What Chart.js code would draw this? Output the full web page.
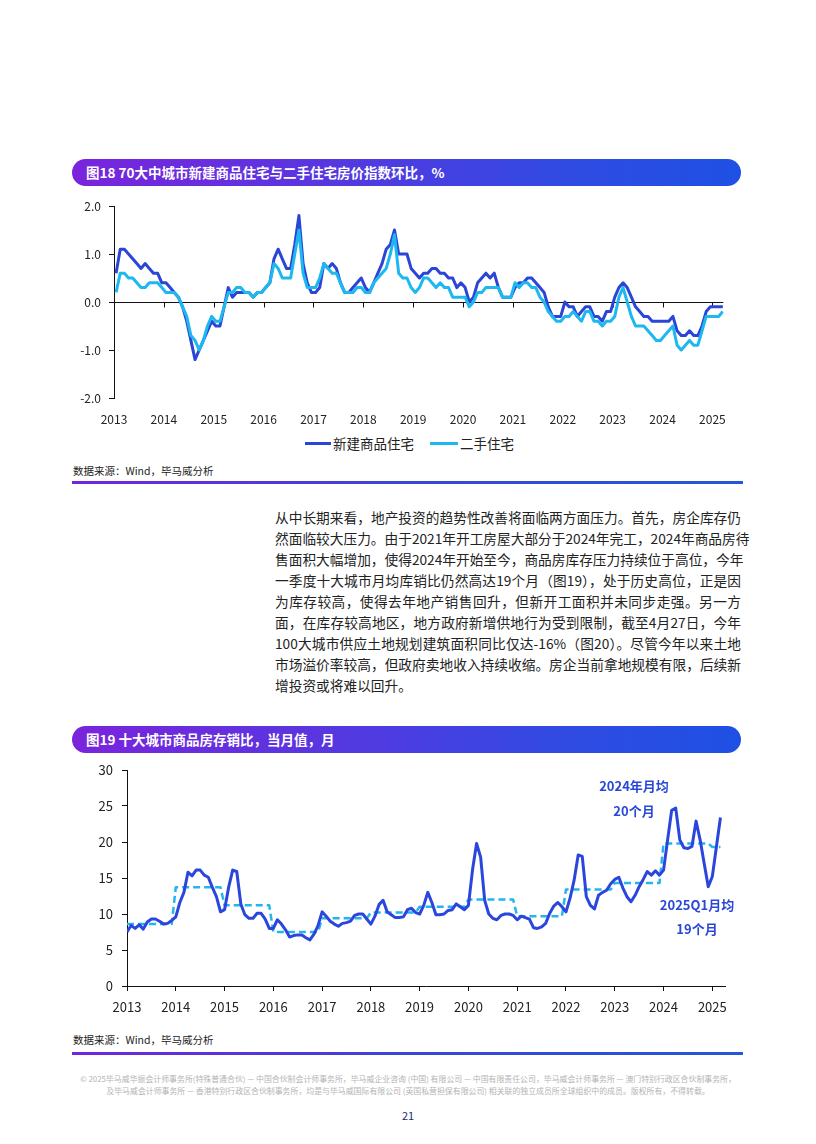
<!DOCTYPE html>
<html>
<head>
<meta charset="utf-8">
<script src="https://cdn.jsdelivr.net/npm/chart.js@4.4.0/dist/chart.umd.min.js"></script>
<style>
  body { margin: 0; width: 816px; height: 1144px; position: relative; background: #fff; overflow: hidden;
         font-family: 'Noto Sans CJK SC', 'Noto Sans', sans-serif; color: #222; }
  .bar { position: absolute; left: 72px; width: 669px; height: 27px; border-radius: 14px; box-sizing: border-box;
         background: linear-gradient(90deg, #7a24dc 0%, #5a35e0 35%, #2f4be2 75%, #1f50e4 100%);
         color: #fff; font-weight: bold; font-size: 13.5px; line-height: 27px; padding-left: 14px; }
  .src { position: absolute; left: 73px; font-size: 10.5px; color: #222; }
  .rule { position: absolute; left: 72px; width: 671px; height: 3px; background: linear-gradient(90deg, #7526d8, #3a45d6 50%, #2457d6); }
  .legend { position: absolute; top: 434px; height: 18px; font-size: 13.5px; line-height: 18px; }
  .legend span.sw { position: absolute; top: 8px; height: 3px; }
  .legend span.tx { position: absolute; top: 0; white-space: nowrap; }
  .para { position: absolute; left: 275px; width: 466px; font-size: 13.7px; color: #222; }
  .para div { height: 21px; line-height: 21px; text-align: justify; text-align-last: justify; white-space: nowrap; }
  .para div.last { text-align-last: left; }
  .note { position: absolute; color: #2a48d8; font-weight: bold; font-size: 13px; text-align: center; width: 100px; }
  .foot { position: absolute; left: 40px; width: 736px; text-align: center; font-size: 7.9px; color: #b4b4b4; line-height: 12px; white-space: nowrap; }
  .page { position: absolute; left: 0; width: 816px; top: 1107px; text-align: center; font-size: 11px; color: #1d2b78; }
  canvas { position: absolute; }
</style>
</head>
<body>

<div class="bar" style="top:159px;">图18 70大中城市新建商品住宅与二手住宅房价指数环比，%</div>
<canvas id="priceChart" width="710" height="236" style="left:30px;top:196px;"></canvas>
<div class="legend" style="left:0;width:816px;">
  <span class="sw" style="left:305px;width:26px;background:#2b45d6;"></span>
  <span class="tx" style="left:333px;">新建商品住宅</span>
  <span class="sw" style="left:430px;width:28px;background:#1cb8ef;"></span>
  <span class="tx" style="left:460px;">二手住宅</span>
</div>
<div class="src" style="top:463px;">数据来源：Wind，毕马威分析</div>
<div class="rule" style="top:481px;"></div>

<div class="para" style="top:507px;">
  <div>从中长期来看，地产投资的趋势性改善将面临两方面压力。首先，房企库存仍</div>
  <div>然面临较大压力。由于2021年开工房屋大部分于2024年完工，2024年商品房待</div>
  <div>售面积大幅增加，使得2024年开始至今，商品房库存压力持续位于高位，今年</div>
  <div>一季度十大城市月均库销比仍然高达19个月（图19），处于历史高位，正是因</div>
  <div>为库存较高，使得去年地产销售回升，但新开工面积并未同步走强。另一方</div>
  <div>面，在库存较高地区，地方政府新增供地行为受到限制，截至4月27日，今年</div>
  <div>100大城市供应土地规划建筑面积同比仅达-16%（图20）。尽管今年以来土地</div>
  <div>市场溢价率较高，但政府卖地收入持续收缩。房企当前拿地规模有限，后续新</div>
  <div class="last">增投资或将难以回升。</div>
</div>

<div class="bar" style="top:726px;">图19 十大城市商品房存销比，当月值，月</div>
<canvas id="ratioChart" width="710" height="256" style="left:30px;top:760px;"></canvas>
<div class="note" style="left:584px;top:776px;">2024年月均</div>
<div class="note" style="left:584px;top:801px;">20个月</div>
<div class="note" style="left:647px;top:895px;">2025Q1月均</div>
<div class="note" style="left:647px;top:919px;">19个月</div>
<div class="src" style="top:1032px;">数据来源：Wind，毕马威分析</div>
<div class="rule" style="top:1052px;"></div>

<div class="foot" style="top:1073px;">© 2025毕马威华振会计师事务所(特殊普通合伙) — 中国合伙制会计师事务所，毕马威企业咨询 (中国) 有限公司 — 中国有限责任公司，毕马威会计师事务所 — 澳门特别行政区合伙制事务所，<br>及毕马威会计师事务所 — 香港特别行政区合伙制事务所，均是与毕马威国际有限公司 (英国私营担保有限公司) 相关联的独立成员所全球组织中的成员。版权所有，不得转载。</div>
<div class="page">21</div>

<script>
// Year ticks shared by both charts
const years = [2013, 2014, 2015, 2016, 2017, 2018, 2019, 2020, 2021, 2022, 2023, 2024, 2025];

// Fig 18: 70-city price index, month on month %, Jan 2013 - Mar 2025
const newHome = [
  0.6, 1.1, 1.1, 1.0, 0.9, 0.8, 0.7, 0.8, 0.7, 0.6, 0.6, 0.4,
  0.4, 0.3, 0.2, 0.1, -0.1, -0.4, -0.8, -1.2, -1.0, -0.8, -0.6, -0.4,
  -0.5, -0.5, -0.1, 0.3, 0.1, 0.2, 0.2, 0.2, 0.2, 0.1, 0.2, 0.2,
  0.3, 0.4, 0.9, 1.1, 0.9, 0.7, 0.7, 1.2, 1.8, 0.8, 0.4, 0.2,
  0.2, 0.3, 0.8, 0.7, 0.8, 0.7, 0.4, 0.2, 0.2, 0.3, 0.4, 0.5,
  0.3, 0.2, 0.4, 0.6, 0.8, 1.1, 1.2, 1.5, 1.0, 1.0, 1.0, 0.7,
  0.6, 0.5, 0.6, 0.6, 0.7, 0.7, 0.6, 0.6, 0.5, 0.5, 0.3, 0.4,
  0.3, 0.0, 0.1, 0.4, 0.5, 0.6, 0.5, 0.6, 0.3, 0.1, 0.1, 0.1,
  0.3, 0.4, 0.4, 0.5, 0.5, 0.4, 0.3, 0.2, -0.1, -0.3, -0.3, -0.3,
  0.0, -0.1, -0.1, -0.3, -0.2, -0.1, -0.1, -0.3, -0.3, -0.4, -0.2, -0.2,
  0.1, 0.3, 0.4, 0.3, 0.1, -0.1, -0.2, -0.3, -0.3, -0.4, -0.4, -0.4,
  -0.4, -0.4, -0.3, -0.6, -0.7, -0.7, -0.6, -0.7, -0.7, -0.5, -0.2, -0.1,
  -0.1, -0.1, -0.1
];
const secondHand = [
  0.2, 0.6, 0.6, 0.5, 0.5, 0.4, 0.3, 0.3, 0.4, 0.4, 0.4, 0.3,
  0.2, 0.2, 0.2, 0.1, -0.1, -0.3, -0.7, -0.8, -1.0, -0.8, -0.5, -0.3,
  -0.4, -0.4, -0.1, 0.2, 0.2, 0.3, 0.3, 0.2, 0.2, 0.1, 0.2, 0.2,
  0.3, 0.4, 0.8, 0.7, 0.5, 0.5, 0.5, 1.0, 1.5, 0.6, 0.3, 0.3,
  0.3, 0.5, 0.8, 0.7, 0.6, 0.6, 0.4, 0.2, 0.2, 0.2, 0.3, 0.3,
  0.2, 0.2, 0.4, 0.5, 0.6, 0.7, 1.0, 1.4, 0.6, 0.5, 0.5, 0.3,
  0.2, 0.3, 0.5, 0.5, 0.4, 0.3, 0.4, 0.3, 0.3, 0.1, 0.1, 0.1,
  0.1, -0.1, 0.0, 0.2, 0.2, 0.3, 0.3, 0.3, 0.3, 0.1, 0.1, 0.1,
  0.4, 0.3, 0.4, 0.4, 0.3, 0.3, 0.1, 0.0, -0.2, -0.3, -0.4, -0.4,
  -0.3, -0.3, -0.2, -0.3, -0.4, -0.2, -0.2, -0.4, -0.4, -0.5, -0.4, -0.4,
  -0.3, 0.1, 0.3, 0.0, -0.3, -0.5, -0.5, -0.5, -0.6, -0.7, -0.8, -0.8,
  -0.7, -0.6, -0.5, -0.9, -1.0, -0.9, -0.8, -0.9, -0.9, -0.6, -0.3, -0.3,
  -0.3, -0.3, -0.2
];
const priceTicks = [-2, -1, 0, 1, 2];

// Fig 19: 10-city inventory-to-sales ratio, months, Jan 2013 - Mar 2025
const ratio = [
  7.5, 8.4, 8.0, 8.5, 7.9, 8.9, 9.3, 9.3, 9.0, 8.6, 8.7, 9.1,
  9.6, 11.6, 13.0, 15.8, 15.3, 16.1, 16.1, 15.4, 15.1, 13.7, 12.4, 10.3,
  10.6, 13.7, 16.1, 15.9, 11.4, 9.9, 9.4, 9.4, 10.1, 10.1, 9.3, 8.0,
  8.0, 9.2, 8.6, 7.8, 6.8, 7.0, 7.1, 7.1, 6.7, 6.4, 7.2, 8.4,
  10.3, 9.7, 9.0, 8.6, 8.3, 8.7, 8.8, 9.0, 9.8, 10.0, 10.0, 9.3,
  8.6, 9.7, 11.3, 11.9, 10.3, 9.9, 9.5, 9.5, 9.6, 10.6, 10.8, 10.2,
  10.0, 11.2, 13.0, 11.6, 9.9, 9.9, 10.0, 10.5, 10.6, 11.4, 11.0, 10.6,
  11.2, 16.1, 19.8, 17.9, 11.9, 10.0, 9.4, 9.2, 9.8, 10.0, 10.0, 9.8,
  9.2, 9.7, 9.5, 9.3, 8.1, 8.0, 8.2, 8.7, 10.1, 11.1, 11.6, 11.0,
  10.3, 12.2, 14.7, 18.2, 18.0, 12.4, 11.2, 10.7, 12.6, 13.0, 13.3, 14.2,
  14.8, 15.1, 13.6, 12.4, 11.7, 12.6, 13.8, 14.8, 15.9, 15.4, 16.0, 15.4,
  16.1, 20.3, 24.4, 24.7, 20.3, 19.2, 19.1, 19.4, 22.9, 20.3, 17.0, 13.8,
  15.2, 19.3, 23.4
];
// yearly average (2025 = Q1 average), drawn as a dashed step line
const ratioYearAvg = [8.6, 13.7, 11.2, 7.5, 9.4, 10.2, 11.0, 12.0, 9.7, 13.4, 14.3, 19.8, 19.3];
const ratioTicks = [0, 5, 10, 15, 20, 25, 30];

Chart.defaults.font.family = "'Noto Sans CJK SC', 'Noto Sans', sans-serif";
Chart.defaults.color = '#222';

const darkBlue = '#2b45d6';
const cyan = '#1cb8ef';

// keep the y axis from pushing the plot down for its end labels
const fixYWidth = w => s => { s.width = w; s.paddingTop = 0; s.paddingBottom = 0; };

// zero line with year tick marks for fig 18
const zeroAxis = {
  id: 'zeroAxis',
  beforeDatasetsDraw(chart) {
    const { ctx, chartArea, scales } = chart;
    const y0 = Math.round(scales.y.getPixelForValue(0)) + 0.5;
    ctx.save();
    ctx.strokeStyle = '#111';
    ctx.lineWidth = 1;
    ctx.beginPath();
    ctx.moveTo(chartArea.left, y0);
    ctx.lineTo(chartArea.right, y0);
    years.forEach(v => {
      const x = Math.round(scales.x.getPixelForValue(v)) + 0.5;
      ctx.moveTo(x, y0);
      ctx.lineTo(x, y0 + 5);
    });
    ctx.stroke();
    ctx.restore();
  }
};

new Chart(document.getElementById('priceChart'), {
  type: 'line',
  data: {
    datasets: [
      {
        label: '新建商品住宅',
        data: newHome.map((v, i) => ({ x: 2013 + (i + 0.5) / 12, y: v })),
        borderColor: darkBlue,
        borderWidth: 3,
        order: 2
      },
      {
        label: '二手住宅',
        data: secondHand.map((v, i) => ({ x: 2013 + (i + 0.5) / 12, y: v })),
        borderColor: cyan,
        borderWidth: 3,
        order: 1
      }
    ]
  },
  options: {
    responsive: false,
    animation: false,
    devicePixelRatio: 1,
    layout: { padding: { top: 10, right: 15, bottom: 4, left: 0 } },
    elements: {
      point: { radius: 0 },
      line: { tension: 0, borderJoinStyle: 'round' }
    },
    plugins: { legend: { display: false }, tooltip: { enabled: false } },
    scales: {
      x: {
        type: 'linear',
        min: 2013,
        max: 2025.22,
        afterBuildTicks: s => { s.ticks = years.map(v => ({ value: v })); },
        afterFit: s => { s.height = 30; },
        border: { display: false },
        grid: { display: false, drawTicks: false },
        ticks: { padding: 14, font: { size: 12 }, color: '#222', callback: v => String(v) }
      },
      y: {
        min: -2,
        max: 2,
        afterBuildTicks: s => { s.ticks = priceTicks.map(v => ({ value: v })); },
        afterFit: fixYWidth(84),
        border: { display: true, color: '#111', width: 1 },
        grid: { drawOnChartArea: false, drawTicks: true, tickLength: 5, color: '#111' },
        ticks: { padding: 8, font: { size: 12 }, color: '#222', callback: v => v.toFixed(1) }
      }
    }
  },
  plugins: [zeroAxis]
});

new Chart(document.getElementById('ratioChart'), {
  type: 'line',
  data: {
    datasets: [
      {
        label: '当月值',
        data: ratio.map((v, i) => ({ x: 2013 + i / 12, y: v })),
        borderColor: '#2a46dc',
        borderWidth: 3,
        order: 1
      },
      {
        label: '年度月均',
        data: ratio.map((v, i) => ({ x: 2013 + i / 12, y: ratioYearAvg[Math.floor(i / 12)] })),
        borderColor: '#22b5ee',
        borderWidth: 2.5,
        borderDash: [7, 4],
        order: 2
      }
    ]
  },
  options: {
    responsive: false,
    animation: false,
    devicePixelRatio: 1,
    layout: { padding: { top: 10, right: 15, bottom: 2, left: 0 } },
    elements: {
      point: { radius: 0 },
      line: { tension: 0, borderJoinStyle: 'round' }
    },
    plugins: { legend: { display: false }, tooltip: { enabled: false } },
    scales: {
      x: {
        type: 'linear',
        min: 2013,
        max: 2025.26,
        afterBuildTicks: s => { s.ticks = years.map(v => ({ value: v })); },
        afterFit: s => { s.height = 28; },
        border: { display: true, color: '#111', width: 1 },
        grid: { drawOnChartArea: false, drawTicks: true, tickLength: 5, color: '#111' },
        ticks: { padding: 8, font: { size: 13 }, color: '#222', callback: v => String(v) }
      },
      y: {
        min: 0,
        max: 30,
        afterBuildTicks: s => { s.ticks = ratioTicks.map(v => ({ value: v })); },
        afterFit: fixYWidth(97),
        border: { display: true, color: '#111', width: 1 },
        grid: { drawOnChartArea: false, drawTicks: true, tickLength: 5, color: '#111' },
        ticks: { padding: 9, font: { size: 13 }, color: '#222' }
      }
    }
  }
});
</script>
</body>
</html>
